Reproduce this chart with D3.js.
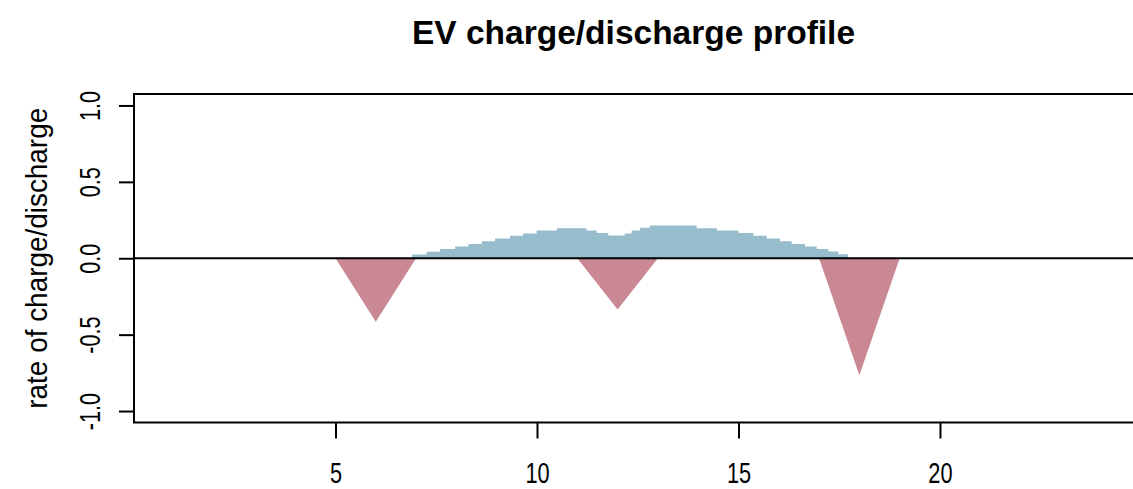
<!DOCTYPE html>
<html>
<head>
<meta charset="utf-8">
<script src="https://cdn.jsdelivr.net/npm/d3@7"></script>
<style>
  html, body { margin: 0; padding: 0; background: #ffffff; }
  svg { display: block; font-family: "Liberation Sans", Arial, sans-serif; }
</style>
</head>
<body>
<svg id="chart" width="1133" height="489"></svg>
<script>
// Charging (positive) profile: step levels, each holding from its start hour
const chargeStart = [6.9, 7.26, 7.59, 7.97, 8.30, 8.63, 8.96, 9.33, 9.66, 9.99,
                     10.49, 11.23, 11.48, 11.77, 12.18, 12.35, 12.56, 12.80, 13.96, 14.46,
                     15.00, 15.37, 15.70, 16.03, 16.32, 16.65, 16.94, 17.23, 17.48, 17.72];
const chargeRate  = [0.024, 0.042, 0.061, 0.077, 0.094, 0.111, 0.129, 0.147, 0.162, 0.181,
                     0.196, 0.181, 0.166, 0.149, 0.162, 0.181, 0.199, 0.214, 0.196, 0.181,
                     0.166, 0.147, 0.129, 0.111, 0.094, 0.077, 0.061, 0.044, 0.026, 0];

// Discharge (negative) events: start, peak and end hour with peak rate
const dischargeStart = [5, 11, 17];
const dischargePeak  = [6, 12, 18];
const dischargeEnd   = [7, 13, 19];
const dischargeRate  = [-0.415, -0.336, -0.765];

const xTicks = [5, 10, 15, 20];
const yTicks = [-1.0, -0.5, 0.0, 0.5, 1.0];

const chartTitle = "EV charge/discharge profile";
const yTitle = "rate of charge/discharge";

const svg = d3.select("#chart");
const pLeft = 134, pRight = 1133, pTop = 94, pBottom = 422.5;

const x = d3.scaleLinear().domain([0, 24.79]).range([pLeft, pRight]);
const y = d3.scaleLinear().domain([-1.075, 1.075]).range([pBottom, pTop]);

const charge = chargeStart.map((t, i) => ({ t, v: chargeRate[i] }));
const area = d3.area()
  .x(d => x(d.t))
  .y0(y(0))
  .y1(d => y(d.v))
  .curve(d3.curveStepAfter);

svg.append("path")
  .datum(charge)
  .attr("fill", "#97bccb")
  .attr("d", area);

const discharge = dischargeStart.map((s, i) => [
  { t: s, v: 0 },
  { t: dischargePeak[i], v: dischargeRate[i] },
  { t: dischargeEnd[i], v: 0 }
]);
const tri = d3.area().x(d => x(d.t)).y0(y(0)).y1(d => y(d.v));
svg.append("g").selectAll("path")
  .data(discharge)
  .join("path")
  .attr("fill", "#c98894")
  .attr("d", tri);

// zero line
svg.append("line")
  .attr("x1", pLeft).attr("x2", pRight)
  .attr("y1", y(0)).attr("y2", y(0))
  .attr("stroke", "#000").attr("stroke-width", 2);

// frame
svg.append("path")
  .attr("d", `M${pRight + 2},${pTop}H${pLeft}V${pBottom}H${pRight + 2}`)
  .attr("fill", "none").attr("stroke", "#000").attr("stroke-width", 2);

// condense text horizontally to a fraction of its natural width
function condense(sel, factor) {
  sel.each(function () {
    const w = this.getComputedTextLength();
    d3.select(this).attr("textLength", w * factor).attr("lengthAdjust", "spacingAndGlyphs");
  });
}

// one decimal, plain ASCII hyphen for negatives
const fmtY = d => d.toFixed(1);

// x axis
const xAxis = svg.append("g").attr("transform", `translate(0,${pBottom})`)
  .call(d3.axisBottom(x).tickValues(xTicks).tickSize(16).tickFormat(d3.format("d")));
xAxis.select(".domain").remove();
xAxis.selectAll(".tick line").attr("stroke", "#000").attr("stroke-width", 2);
xAxis.selectAll(".tick text")
  .attr("font-size", 29).attr("fill", "#000")
  .attr("font-family", "Liberation Sans, Arial, sans-serif")
  .attr("y", 60.5).attr("dy", null)
  .call(condense, 0.75);

// y axis
const yAxis = svg.append("g").attr("transform", `translate(${pLeft},0)`)
  .call(d3.axisLeft(y).tickValues(yTicks).tickSize(15).tickFormat(fmtY));
yAxis.select(".domain").remove();
yAxis.selectAll(".tick line").attr("stroke", "#000").attr("stroke-width", 2);
yAxis.selectAll(".tick text")
  .attr("font-size", 30).attr("fill", "#000")
  .attr("font-family", "Liberation Sans, Arial, sans-serif")
  .attr("text-anchor", "middle")
  .attr("x", null).attr("dy", null)
  .attr("transform", "translate(-34,0) rotate(-90)")
  .call(condense, 0.72);

// titles
svg.append("text")
  .attr("x", (pLeft + pRight) / 2).attr("y", 44)
  .attr("text-anchor", "middle")
  .attr("font-size", 33.5).attr("font-weight", "bold").attr("fill", "#000")
  .text(chartTitle);

svg.append("text")
  .attr("transform", `translate(47,${(pTop + pBottom) / 2}) rotate(-90)`)
  .attr("text-anchor", "middle")
  .attr("font-size", 30).attr("fill", "#000")
  .text(yTitle)
  .call(condense, 0.93);
</script>
</body>
</html>
